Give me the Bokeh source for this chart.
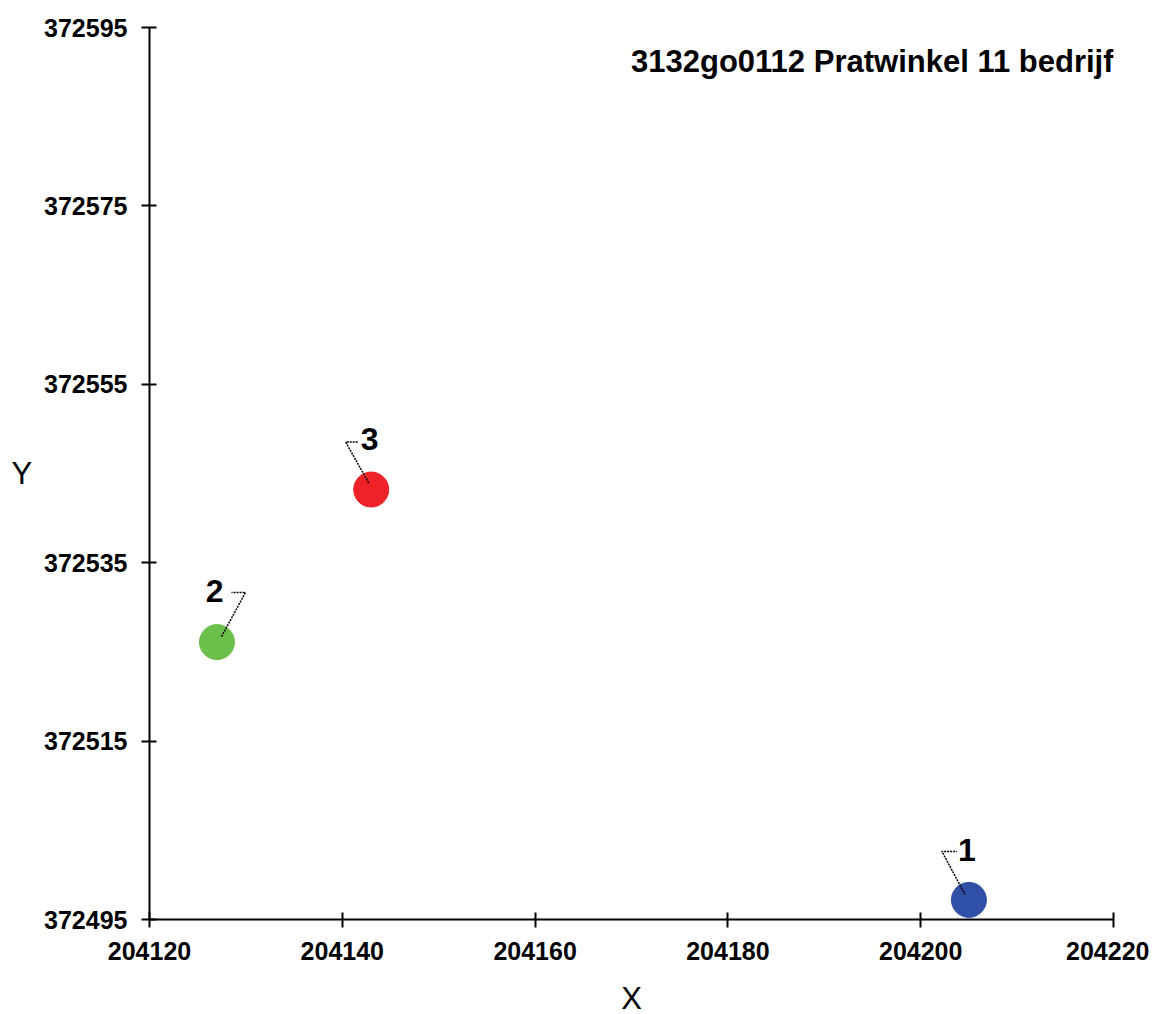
from bokeh.plotting import figure
from bokeh.models import Range1d, FixedTicker, Label, ColumnDataSource, BasicTickFormatter
from bokeh.core.properties import value
from bokeh.embed import file_html
from bokeh.resources import INLINE

# ---- data ----
title_text = "3132go0112 Pratwinkel 11 bedrijf"
point_labels = ["1", "2", "3"]
x_vals = [204205, 204127, 204143]
y_vals = [372497.2, 372526.1, 372543.2]
point_colors = ["#3050A8", "#6CBF4A", "#EE2228"]
x_ticks = [204120, 204140, 204160, 204180, 204200, 204220]
y_ticks = [372495, 372515, 372535, 372555, 372575, 372595]
x_title = "X"
y_title = "Y"

# ---- label placement (screen pixels relative to point, y down) ----
lead_start = [(-4, -5.5), (4.5, -5.5), (-2.5, -6.5)]
lead_elbow = [(-27, -48.5), (28.5, -49.5), (-25.5, -47.5)]
lead_end = [(-12, -48.5), (14.5, -49.5), (-12.5, -47.5)]
text_pos = [(-11, -50), (6.5, -51), (-10.5, -51)]
text_aligns = ["left", "right", "left"]

FONT = "Liberation Sans"
FW, FH = 964, 892
x0, x1 = x_ticks[0], x_ticks[-1]
y0, y1 = y_ticks[0], y_ticks[-1]

p = figure(frame_width=FW, frame_height=FH,
           x_range=Range1d(x0, x1), y_range=Range1d(y0, y1),
           output_backend="svg", toolbar_location=None,
           min_border_left=149, min_border_top=27,
           min_border_right=36, min_border_bottom=60)
p.outline_line_color = None
p.xgrid.visible = False
p.ygrid.visible = False
p.background_fill_color = "white"
p.border_fill_color = "white"

kx = (x1 - x0) / FW
ky = (y1 - y0) / FH

# leader lines
xs, ys = [], []
for x, y, s, e, n in zip(x_vals, y_vals, lead_start, lead_elbow, lead_end):
    xs.append([x + s[0] * kx, x + e[0] * kx, x + n[0] * kx])
    ys.append([y - s[1] * ky, y - e[1] * ky, y - n[1] * ky])

src = ColumnDataSource(dict(x=x_vals, y=y_vals, c=point_colors, t=point_labels,
                            dx=[t[0] for t in text_pos], dy=[t[1] for t in text_pos],
                            al=text_aligns))

p.scatter("x", "y", source=src, size=35, fill_color="c", line_color="c")
p.multi_line(xs, ys, line_color="black", line_width=1.5, line_dash="2 1")
p.text("x", "y", text="t", source=src, x_offset="dx", y_offset="dy",
       text_align="al", text_baseline="middle",
       text_font=value(FONT), text_font_size="32px", text_font_style="bold",
       text_color="black")

for ax in (p.xaxis[0], p.yaxis[0]):
    ax.axis_line_color = "black"
    ax.axis_line_width = 2
    ax.major_tick_line_color = "black"
    ax.major_tick_line_width = 2
    ax.major_tick_in = 7
    ax.major_tick_out = 8
    ax.minor_tick_line_color = None
    ax.formatter = BasicTickFormatter(use_scientific=False)
    ax.major_label_text_font = FONT
    ax.major_label_text_font_size = "25px"
    ax.major_label_text_font_style = "bold"
    ax.major_label_text_color = "black"
    ax.axis_label_text_font = FONT
    ax.axis_label_text_font_size = "31px"
    ax.axis_label_text_font_style = "normal"
    ax.axis_label_text_color = "black"

p.xaxis[0].ticker = FixedTicker(ticks=x_ticks)
p.yaxis[0].ticker = FixedTicker(ticks=y_ticks)
p.xaxis[0].major_label_standoff = 14
p.yaxis[0].major_label_standoff = 14
p.xaxis[0].axis_label = x_title
p.yaxis[0].axis_label = y_title
p.xaxis[0].axis_label_standoff = 18
p.yaxis[0].axis_label_standoff = 9
if "axis_label_orientation" in p.yaxis[0].properties():
    p.yaxis[0].axis_label_orientation = "horizontal"

title = Label(x=x1, y=y1, text=title_text, x_offset=0, y_offset=-34,
              text_align="right", text_baseline="middle",
              text_font=FONT, text_font_size="31px", text_font_style="bold",
              text_color="black")
p.add_layout(title)

open("out.html", "w").write(file_html(p, INLINE))
